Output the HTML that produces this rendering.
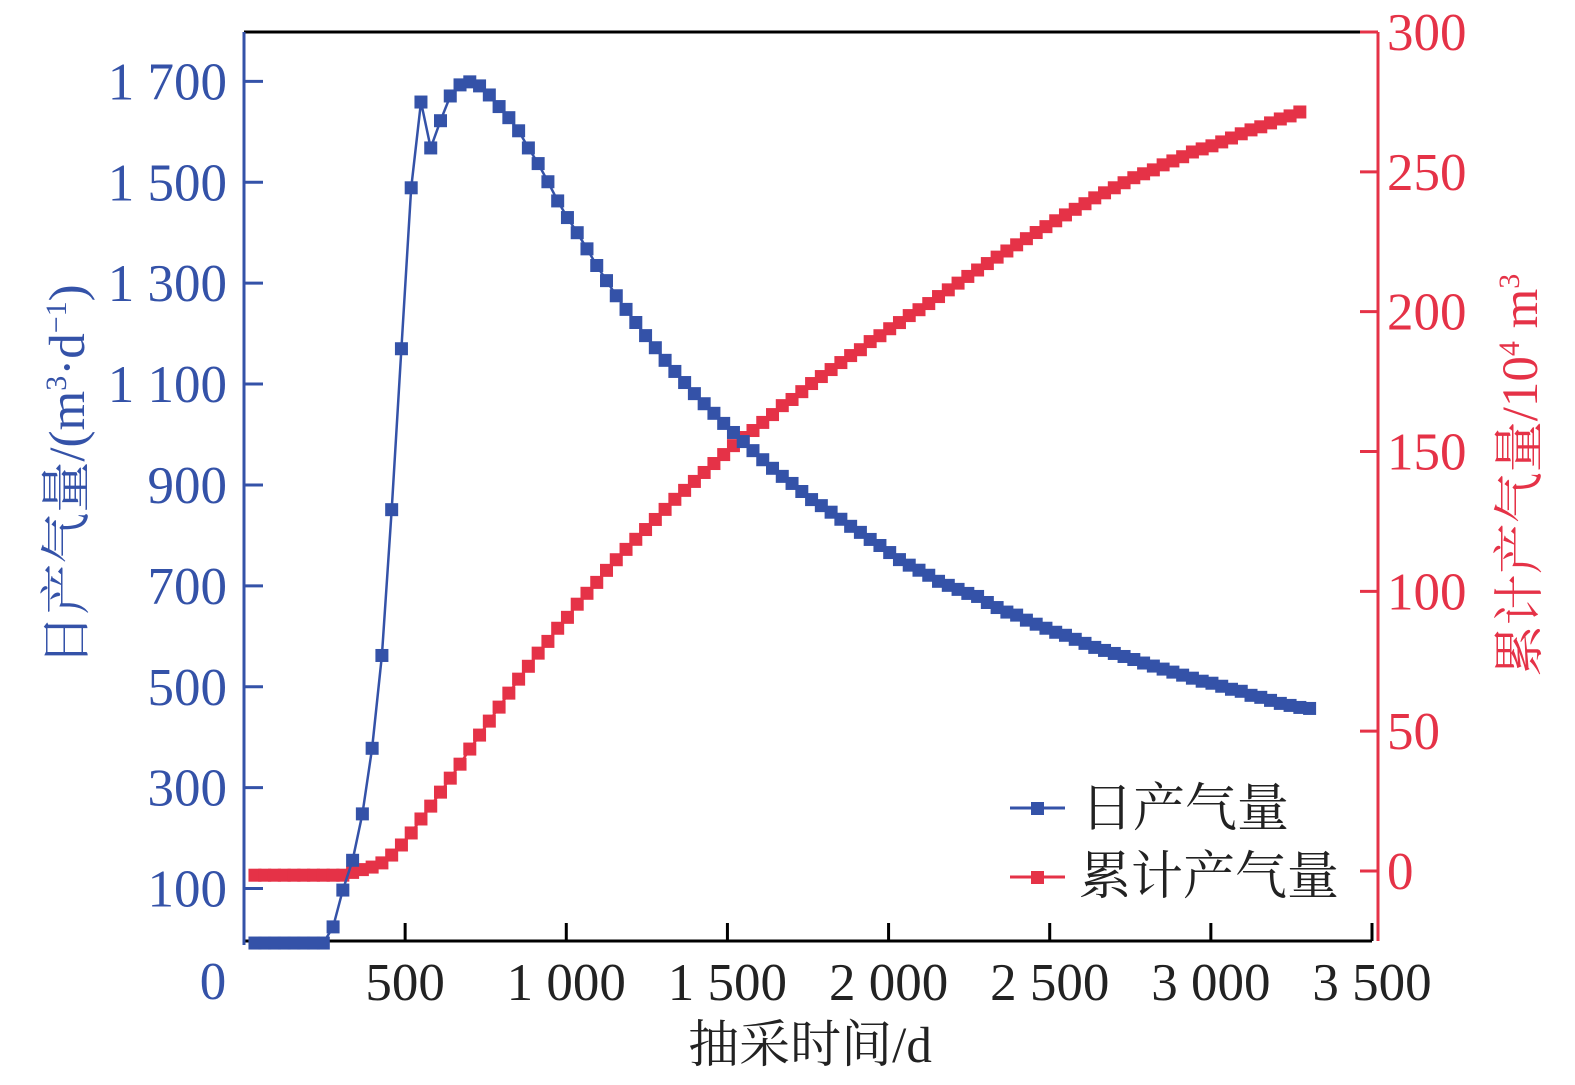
<!DOCTYPE html>
<html><head><meta charset="utf-8">
<style>
html,body{margin:0;padding:0;background:#fff;}
svg{display:block;}
text{font-family:"Liberation Serif","Noto Serif CJK SC",serif;}
</style></head>
<body>
<svg id="chart" width="1575" height="1085" viewBox="0 0 1575 1085" xmlns="http://www.w3.org/2000/svg">
<g id="axes"></g>
<g id="series"></g>
<g id="legend">
  <line x1="1010" y1="808" x2="1065" y2="808" stroke="#3452a8" stroke-width="3"/>
  <rect x="1031" y="802" width="13" height="13" fill="#3452a8"/>
  <text x="1081" y="826" font-size="52" fill="#222">日产气量</text>
  <line x1="1010" y1="877" x2="1065" y2="877" stroke="#e53247" stroke-width="3"/>
  <rect x="1031" y="871" width="13" height="13" fill="#e53247"/>
  <text x="1079" y="894" font-size="52" fill="#222">累计产气量</text>
</g>
</svg>
<script>
// ---- data ----
const dayStart = 34;
const dayStep = 30.3;
const dailyGas = [-8,-8,-8,-8,-8,-8,-8,-8,24,97,156,248,378,562,851,1170,1489,1659,1568,1622,1671,1693,1699,1691,1673,1650,1628,1602,1568,1537,1501,1463,1430,1400,1368,1335,1305,1275,1248,1222,
1196,1172,1147,1125,1103,1081,1061,1042,1022,1004,986,968,950,933,917,903,887,871,859,846,832,818,806,792,780,766,752,741,731,721,709,701,693,685,679,
667,657,648,642,632,624,616,608,602,594,586,578,572,566,560,554,547,541,535,529,523,517,511,507,501,495,491,483,479,473,467,463,459,457];
const cumGas = [-1.5,-1.5,-1.5,-1.5,-1.5,-1.5,-1.5,-1.5,-1.5,-1.5,-0.5,0.5,1.4,2.9,5.7,9.3,13.6,18.6,23.2,28.2,33.2,38.2,43.6,48.6,53.6,58.6,63.6,68.6,73.2,77.9,82.1,86.8,90.7,95.4,99.3,103.2,107.5,111.3,115.0,118.6,
122.1,125.7,129.3,132.9,136.1,139.3,142.5,145.7,148.9,152.1,155.0,157.5,160.4,163.2,166.4,168.6,171.4,174.3,176.8,179.3,181.8,184.3,186.4,189.3,191.4,193.9,196.1,198.6,200.7,202.9,
205.4,207.8,210.2,212.6,214.9,217.2,219.5,221.7,223.9,226.1,228.3,230.4,232.5,234.6,236.6,238.6,
240.7,242.5,244.3,246.1,247.9,249.3,250.7,252.5,253.9,255.4,257.1,258.2,259.3,260.7,262.1,263.6,265.0,266.1,267.5,268.9,270.0,271.4];
const xTicks = [500,1000,1500,2000,2500,3000,3500];
const xTickLabels = ["500","1 000","1 500","2 000","2 500","3 000","3 500"];
const yLeftTicks = [100,300,500,700,900,1100,1300,1500,1700];
const yLeftLabels = ["100","300","500","700","900","1 100","1 300","1 500","1 700"];
const yRightTicks = [0,50,100,150,200,250,300];
const yRightLabels = ["0","50","100","150","200","250","300"];

// ---- scales ----
const L=244, R=1372, T=32, B=941, RA=1378;
const xS = d => L + d*(R-L)/3500;
const yL = v => 939 - v*0.5045;
const yR = v => 871 - v*(871-32)/300;
const NS="http://www.w3.org/2000/svg";
function mk(tag, attrs, parent){const e=document.createElementNS(NS,tag);for(const k in attrs)e.setAttribute(k,attrs[k]);parent.appendChild(e);return e;}
const axes=document.getElementById('axes');
const ser=document.getElementById('series');
const BLUE="#3452a8", RED="#e53247";

let e;
e=mk('line',{x1:L,y1:T,x2:1362,y2:T,stroke:"#000","stroke-width":3},axes);


e=mk('line',{x1:L,y1:B,x2:R,y2:B,stroke:"#000","stroke-width":3},axes);


e=mk('line',{x1:L,y1:T,x2:L,y2:B+4,stroke:BLUE,"stroke-width":3},axes);


e=mk('line',{x1:RA,y1:T,x2:RA,y2:B,stroke:RED,"stroke-width":3},axes);


e=mk('line',{x1:1360,y1:T,x2:RA,y2:T,stroke:RED,"stroke-width":3},axes);



xTicks.forEach((d,i)=>{
  const x=xS(d);
  e=mk('line',{x1:x,y1:B,x2:x,y2:B-18,stroke:"#000","stroke-width":3},axes);
  
  
  e=mk('text',{x:x,y:1000,"font-size":53,"text-anchor":"middle",fill:"#222"},axes);
  e.textContent=xTickLabels[i];
  
  
});
e=mk('text',{x:213,y:999,"font-size":53,"text-anchor":"middle",fill:BLUE},axes);
e.textContent="0";



yLeftTicks.forEach((v,i)=>{
  const y=yL(v);
  e=mk('line',{x1:L,y1:y,x2:L+19,y2:y,stroke:BLUE,"stroke-width":3},axes);
  
  
  e=mk('text',{x:227,y:y+18,"font-size":53,"text-anchor":"end",fill:BLUE},axes);
  e.textContent=yLeftLabels[i];
  
  
});
yRightTicks.forEach((v,i)=>{
  const y=yR(v);
  e=mk('line',{x1:RA-18,y1:y,x2:RA,y2:y,stroke:RED,"stroke-width":3},axes);
  
  
  e=mk('text',{x:1387,y:y+18,"font-size":53,"text-anchor":"start",fill:RED},axes);
  e.textContent=yRightLabels[i];
  
  
});

e=mk('text',{x:0,y:0,"font-size":51,"text-anchor":"middle",fill:"#222"},axes);
e.setAttribute('transform','translate(810,1062)');
e.textContent="抽采时间/d";



e=mk('text',{x:0,y:0,"font-size":51,"text-anchor":"middle",fill:BLUE,transform:"translate(84,475) rotate(-90)"},axes);
e.innerHTML='日产气量/(m<tspan font-size="30" dy="-18">3</tspan><tspan dy="18">·d</tspan><tspan font-size="30" dy="-18">−1</tspan><tspan dy="18">)</tspan>';



e=mk('text',{x:0,y:0,"font-size":51,"text-anchor":"middle",fill:RED,transform:"translate(1537,475) rotate(-90)"},axes);
e.innerHTML='累计产气量/10<tspan font-size="30" dy="-18">4</tspan><tspan dy="18"> m</tspan><tspan font-size="30" dy="-18">3</tspan>';



function drawSeries(vals, yfn, color, name){
  const g=mk('g',{},ser);
  
  
  const pts=vals.map((v,i)=>xS(dayStart+dayStep*i).toFixed(1)+","+yfn(v).toFixed(1)).join(" ");
  const pl=mk('polyline',{points:pts,fill:"none",stroke:color,"stroke-width":2.5},g);
  
  
  vals.forEach((v,i)=>{
    const x=xS(dayStart+dayStep*i), y=yfn(v);
    const r=mk('rect',{x:x-6.5,y:y-6.5,width:13,height:13,fill:color},g);
    
    
  });
}
drawSeries(cumGas, yR, RED, 'cumulative-gas');
drawSeries(dailyGas, yL, BLUE, 'daily-gas');
</script>
</body></html>
